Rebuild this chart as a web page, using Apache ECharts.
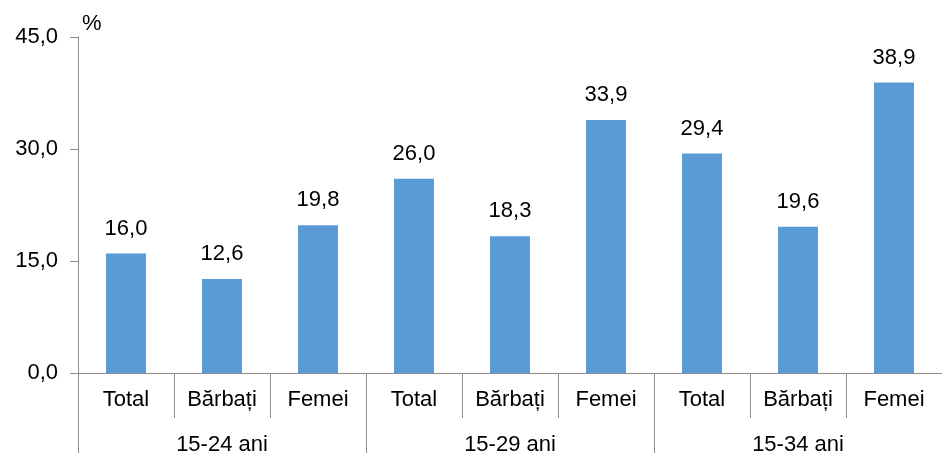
<!DOCTYPE html>
<html><head><meta charset="utf-8">
<script src="https://cdn.jsdelivr.net/npm/echarts@6/dist/echarts.min.js"></script>
<style>html,body{margin:0;padding:0;background:#fff}#c{width:942px;height:453px}</style>
</head><body><div id="c"></div>
<script>
const subCategories = ['Total','Bărbați','Femei','Total','Bărbați','Femei','Total','Bărbați','Femei'];
const groups = ['15-24 ani','15-29 ani','15-34 ani'];
const values = [16.0, 12.6, 19.8, 26.0, 18.3, 33.9, 29.4, 19.6, 38.9];

const fmt = v => v.toFixed(1).replace('.', ',');
const font = 'Liberation Sans, Arial, sans-serif';
const fs = 22;
const chart = echarts.init(document.getElementById('c'), null, {renderer:'canvas'});
chart.setOption({
  animation: false,
  grid: {left: 78, right: 0, top: 37, bottom: 80, containLabel: false, outerBoundsMode: 'none'},
  graphic: [{type:'text', left: 82, top: 13, style:{text:'%', font: fs + 'px ' + font, fill:'#000'}}],
  xAxis: [{
    type: 'category', data: subCategories, position: 'bottom',
    axisLine: {show: true, lineStyle: {color: '#8c8c8c', width: 1}},
    axisTick: {show: true, interval: 0, length: 45, lineStyle: {color: '#8c8c8c'}},
    axisLabel: {interval: 0, margin: 16, color: '#000', fontSize: fs, fontFamily: font}
  }, {
    type: 'category', data: groups, position: 'bottom',
    axisLine: {show: false},
    axisTick: {show: true, interval: 0, length: 80, lineStyle: {color: '#8c8c8c'}},
    axisLabel: {interval: 0, margin: 61, color: '#000', fontSize: fs, fontFamily: font}
  }],
  yAxis: {
    type: 'value', min: 0, max: 45, interval: 15,
    axisLine: {show: true, lineStyle: {color: '#8c8c8c'}},
    axisTick: {show: true, length: 8, lineStyle: {color: '#8c8c8c'}},
    splitLine: {show: false},
    axisLabel: {margin: 20, color: '#000', fontSize: fs, fontFamily: font, formatter: v => fmt(v)}
  },
  series: [{
    type: 'bar', xAxisIndex: 0, data: values, barWidth: 40,
    itemStyle: {color: '#5b9bd5'},
    label: {show: true, position: 'top', distance: 14, color: '#000', fontSize: fs, fontFamily: font, formatter: p => fmt(p.value)}
  }]
});
</script></body></html>
